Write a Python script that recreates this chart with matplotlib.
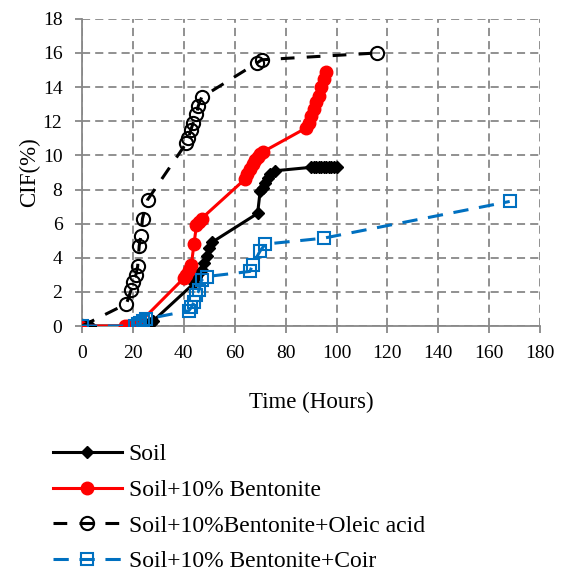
import matplotlib.pyplot as plt

plt.rcParams['font.family'] = ['Liberation Serif', 'DejaVu Serif']

# Soil
soil_t = [0, 3, 25, 26, 27, 28, 44, 45, 47, 48, 49, 50, 51,
          69, 70, 71, 72, 73, 74, 76,
          90, 91, 92, 93, 94, 95, 96, 97, 98, 99, 100]
soil_cif = [0, 0, 0, 0.1, 0.2, 0.3, 2.5, 2.9, 3.3, 3.7, 4.1, 4.6, 4.9,
            6.6, 7.9, 8.1, 8.4, 8.7, 8.9, 9.1,
            9.3, 9.3, 9.3, 9.3, 9.3, 9.3, 9.3, 9.3, 9.3, 9.3, 9.3]

# Soil+10% Bentonite
bent_t = [0, 17, 18, 19, 20, 21, 22, 40, 41, 42, 43, 44, 45, 46, 47,
          64, 65, 66, 67, 68, 69, 70, 71,
          88, 89, 90, 91, 92, 93, 94, 95, 96]
bent_cif = [0, 0, 0, 0, 0, 0, 0.1, 2.8, 3.0, 3.3, 3.6, 4.8, 5.9, 6.1, 6.3,
            8.6, 8.9, 9.2, 9.5, 9.7, 9.9, 10.1, 10.2,
            11.6, 11.9, 12.3, 12.7, 13.1, 13.5, 14.0, 14.5, 14.9]

# Soil+10% Bentonite+Oleic acid
oleic_t = [0, 17.5, 19.3, 19.9, 21.2, 21.9, 22.5, 23.2, 23.8, 25.8,
           40.9, 41.8, 42.8, 43.7, 45.0, 45.7, 47.0, 68.6, 70.6, 115.8]
oleic_cif = [0, 1.3, 2.1, 2.6, 3.0, 3.5, 4.7, 5.3, 6.3, 7.4,
             10.7, 11.0, 11.5, 11.9, 12.4, 12.9, 13.4, 15.4, 15.6, 16.0]

# Soil+10% Bentonite+Coir
coir_t = [0, 21, 22, 23, 24, 25, 42, 43, 44, 45, 46, 47, 49,
          66, 67, 70, 72, 95, 168]
coir_cif = [0, 0, 0.1, 0.2, 0.3, 0.4, 0.9, 1.1, 1.4, 1.8, 2.1, 2.7, 2.9,
            3.2, 3.6, 4.4, 4.8, 5.15, 7.3]

fig = plt.figure(figsize=(5.61, 5.71), dpi=100)
ax = fig.add_axes([0.146, 0.429, 0.817, 0.538])

blue = '#0070C0'
ax.plot(soil_t, soil_cif, color='black', lw=2.2, marker='D', ms=6,
        label='Soil', zorder=3)
ax.plot(bent_t, bent_cif, color='red', lw=2.2, marker='o', ms=9,
        label='Soil+10% Bentonite', zorder=4)
ax.plot(oleic_t, oleic_cif, color='black', lw=2.2, ls=(0, (4.5, 4)),
        marker='o', ms=9.5, mfc='none', mew=1.5,
        label='Soil+10%Bentonite+Oleic acid', zorder=5)
ax.plot(coir_t, coir_cif, color=blue, lw=2.2, ls=(0, (5, 3.5)),
        marker='s', ms=8.5, mfc='none', mew=1.5,
        label='Soil+10% Bentonite+Coir', zorder=6)

ax.set_xlim(0, 180)
ax.set_ylim(0, 18)
ax.set_xticks(range(0, 181, 20))
ax.set_yticks(range(0, 19, 2))
ax.grid(True, color='#888888', ls=(0, (4.5, 2.8)), lw=1.3)
ax.set_axisbelow(True)
for s in ['top', 'right']:
    ax.spines[s].set_visible(False)
for s in ['left', 'bottom']:
    ax.spines[s].set_color('#888888')
    ax.spines[s].set_linewidth(1.3)
ax.tick_params(colors='#888888', labelcolor='black', labelsize=14,
               length=5, width=1.3, pad=9)

ax.set_xlabel('Time (Hours)', fontsize=16.5, labelpad=21)
ax.set_ylabel('CIF(%)', fontsize=16.5, labelpad=2)

fig.legend(loc='upper left', bbox_to_anchor=(0.057, 0.26), frameon=False,
           fontsize=17, handlelength=2.9, labelspacing=0.6,
           handletextpad=0.3)

fig.savefig('out.png', dpi=100)
